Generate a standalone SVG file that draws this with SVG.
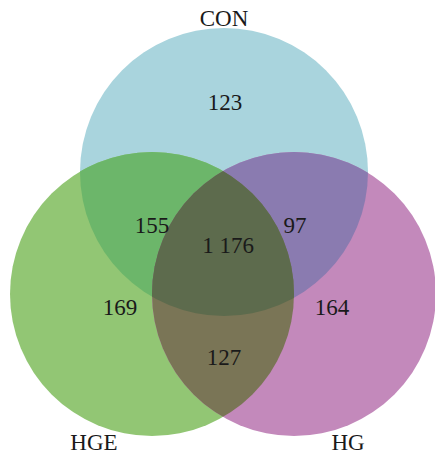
<svg xmlns="http://www.w3.org/2000/svg" width="435" height="456" viewBox="0 0 435 456">
<style>
text{font-family:"Liberation Serif","Times New Roman",serif;font-size:23px;fill:#1a1a1a;text-anchor:middle}
</style>
<defs>
<clipPath id="cCON"><circle cx="224" cy="172" r="144"/></clipPath>
<clipPath id="cHGE"><circle cx="152" cy="294" r="142"/></clipPath>
<clipPath id="cHG"><circle cx="294" cy="294" r="142"/></clipPath>
</defs>
<rect width="435" height="456" fill="#ffffff"/>
<g id="CON"><circle cx="224" cy="172" r="144" fill="#a9d4dd"/></g>
<g id="HGE"><circle cx="152" cy="294" r="142" fill="#92c674"/></g>
<g id="HG"><circle cx="294" cy="294" r="142" fill="#c389bb"/></g>
<g id="overlaps">
<circle cx="152" cy="294" r="142" fill="#6cb66a" clip-path="url(#cCON)"/>
<circle cx="294" cy="294" r="142" fill="#8a7bb0" clip-path="url(#cCON)"/>
<circle cx="294" cy="294" r="142" fill="#7a7556" clip-path="url(#cHGE)"/>
<g clip-path="url(#cCON)"><circle cx="294" cy="294" r="142" fill="#5d6b4d" clip-path="url(#cHGE)"/></g>
</g>
<g id="labels">
<text x="224" y="26">CON</text>
<text x="225" y="110">123</text>
<text x="152" y="233">155</text>
<text x="295" y="233">97</text>
<text x="228" y="253">1 176</text>
<text x="120" y="315">169</text>
<text x="332" y="315">164</text>
<text x="224" y="365">127</text>
<text x="94" y="450">HGE</text>
<text x="348" y="450">HG</text>
</g>
</svg>
